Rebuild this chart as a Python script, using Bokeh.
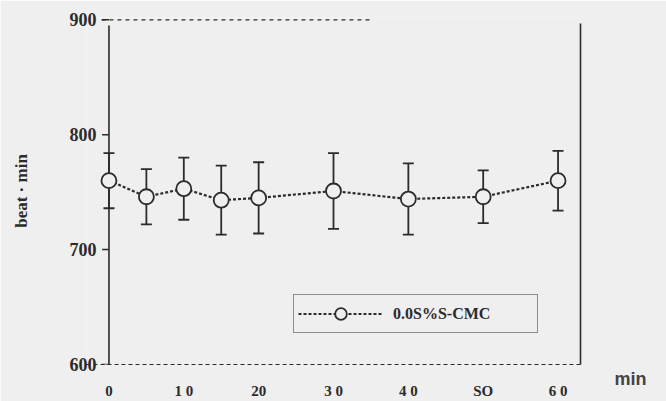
import math
from bokeh.plotting import figure
from bokeh.models import (ColumnDataSource, Range1d, LinearAxis, FixedTicker, Label,
                          Legend, LegendItem)
from bokeh.embed import file_html
from bokeh.resources import INLINE

# ---- data ----
time_min = [0, 5, 10, 15, 20, 30, 40, 50, 60]
beat_mean = [760, 746, 753, 743, 745, 751, 744, 746, 760]
beat_err = [24, 24, 27, 30, 31, 33, 31, 23, 26]
x_ticks = [0, 10, 20, 30, 40, 50, 60]
x_tick_labels = ["0", "1 0", "20", "3 0", "4 0", "SO", "6 0"]
y_ticks = [600, 700, 800, 900]
series_name = "0.0S%S-CMC"
y_label = "beat · min"
x_label = "min"

upper = [m + e for m, e in zip(beat_mean, beat_err)]
lower = [m - e for m, e in zip(beat_mean, beat_err)]
src = ColumnDataSource(dict(t=time_min, m=beat_mean, hi=upper, lo=lower))
tick_src = ColumnDataSource(dict(x=[time_min[0] - 0.45] * len(y_ticks), y=y_ticks))

BG = "#efefef"
INK = "#2b2b2b"
SERIF = "Liberation Serif"

p = figure(width=666, height=401, output_backend="svg", toolbar_location=None,
           x_range=Range1d(-3, 63), y_range=Range1d(600, 902),
           background_fill_color=BG, border_fill_color=BG, outline_line_color=None,
           min_border_left=86, min_border_right=86, min_border_top=17,
           min_border_bottom=34)
p.grid.visible = False

# left axis: labels shifted so they sit beside the line at time 0
yax = p.yaxis[0]
yax.ticker = FixedTicker(ticks=y_ticks)
yax.axis_line_color = None
yax.major_tick_out = 0
yax.major_tick_in = 0
yax.major_tick_line_color = None
yax.minor_tick_line_color = None
yax.major_label_standoff = -10
yax.major_label_text_font = SERIF
yax.major_label_text_font_style = "bold"
yax.major_label_text_font_size = "18px"
yax.major_label_text_color = INK
yax.axis_label = y_label
yax.axis_label_standoff = 36
yax.axis_label_text_font = SERIF
yax.axis_label_text_font_style = "bold"
yax.axis_label_text_font_size = "17px"
yax.axis_label_text_color = INK

# vertical axis line at time 0, with small tick marks
p.segment(x0=[time_min[0]], y0=[y_ticks[0]], x1=[time_min[0]], y1=[y_ticks[-1] - 5],
          line_color=INK, line_width=1.6)
p.scatter(x="x", y="y", source=tick_src, marker="dash", size=7,
          line_color=INK, line_width=1.5)

# x axis (dashed baseline)
xax = p.xaxis[0]
xax.ticker = FixedTicker(ticks=x_ticks)
xax.major_label_overrides = {t: l for t, l in zip(x_ticks, x_tick_labels)}
xax.axis_line_color = INK
xax.axis_line_width = 1.2
xax.axis_line_dash = "4 3"
xax.major_tick_line_color = None
xax.minor_tick_line_color = None
xax.major_label_standoff = 12
xax.major_label_text_font = SERIF
xax.major_label_text_font_style = "bold"
xax.major_label_text_font_size = "15px"
xax.major_label_text_color = INK

# right border line
rax = LinearAxis(ticker=FixedTicker(ticks=[]), axis_line_color=INK, axis_line_width=1.6,
                 major_tick_line_color=None, minor_tick_line_color=None,
                 major_label_text_font_size="0px", bounds=(600, 897))
p.add_layout(rax, "right")

# top dashed border (partial)
p.segment(x0=[-1], y0=[y_ticks[-1]], x1=[35], y1=[y_ticks[-1]],
          line_color=INK, line_width=1.3, line_dash="4 4")

# error bars
p.segment(x0="t", y0="lo", x1="t", y1="hi", source=src, line_color=INK, line_width=1.8)
p.scatter(x="t", y="hi", source=src, marker="dash", size=11, line_color=INK, line_width=1.8)
p.scatter(x="t", y="lo", source=src, marker="dash", size=11, line_color=INK, line_width=1.8)

# mean line and markers
line_r = p.line(x="t", y="m", source=src, line_color=INK, line_width=2.2, line_dash="3 2")
circ_r = p.scatter(x="t", y="m", source=src, marker="circle", size=15,
                   fill_color=BG, line_color=INK, line_width=1.8)

legend = Legend(items=[LegendItem(label=series_name, renderers=[line_r, circ_r])],
                location=(207, 31), border_line_color=INK, border_line_width=1.5,
                background_fill_alpha=0, glyph_width=85, glyph_height=29,
                label_standoff=10, label_width=140, padding=4, margin=0,
                label_text_font=SERIF, label_text_font_style="bold",
                label_text_font_size="16px", label_text_color=INK)
p.add_layout(legend)

# x-axis unit, placed in the right side panel (not clipped by the frame)
p.add_layout(Label(x=50, y=-14, x_units="screen", y_units="screen",
                   text=x_label, text_align="center",
                   text_baseline="middle", text_font="Liberation Sans",
                   text_font_style="bold", text_font_size="18px",
                   text_color="#444444"), "right")

open("out.html", "w").write(file_html(p, INLINE))
